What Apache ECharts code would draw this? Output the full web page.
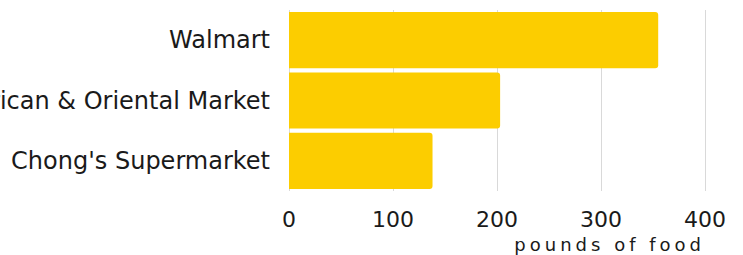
<!DOCTYPE html>
<html lang="en" style="height: 100%">

<head>
  <meta charset="utf-8">
</head>

<body style="height: 100%; margin: 0">
  <div id="container" style="height: 100%"></div>

  <script type="text/javascript" src="https://fastly.jsdelivr.net/npm/echarts@6.0.0/dist/echarts.min.js"></script>

  <script type="text/javascript">
    var stores = ['Walmart', 'African & Oriental Market', "Chong's Supermarket"];
    var pounds = [355, 203, 138];
    var xTicks = [0, 100, 200, 300, 400];
    var axisTitle = 'pounds of food';

    var dom = document.getElementById('container');
    // svg so the axis title can get letter spacing below
    var myChart = echarts.init(dom, null, {
      renderer: 'svg'
    });

    var font = 'DejaVu Sans';
    var option = {
      animation: false,
      grid: {
        left: 289,
        right: 38,
        top: 10,
        bottom: 64,
        outerBoundsMode: 'none'
      },
      xAxis: {
        type: 'value',
        min: xTicks[0],
        max: xTicks[xTicks.length - 1],
        interval: 100,
        name: axisTitle,
        nameLocation: 'end',
        nameGap: 0,
        nameTextStyle: {
          align: 'right',
          verticalAlign: 'top',
          padding: [44, 0, 0, 0],
          fontFamily: font,
          fontSize: 18,
          color: '#1a1a1a'
        },
        axisLine: { show: false },
        axisTick: { show: false },
        axisLabel: {
          margin: 17,
          fontFamily: font,
          fontSize: 22,
          color: '#1a1a1a'
        },
        splitLine: {
          lineStyle: { color: '#d9d9d9', width: 1 }
        }
      },
      yAxis: {
        type: 'category',
        data: stores,
        inverse: true,
        axisLine: { show: false },
        axisTick: { show: false },
        axisLabel: {
          margin: 19,
          fontFamily: font,
          fontSize: 24,
          color: '#1a1a1a'
        }
      },
      series: [{
        type: 'bar',
        data: pounds,
        barCategoryGap: '7%',
        itemStyle: {
          color: '#fccd00',
          borderRadius: [0, 3, 3, 0]
        }
      }]
    };

    myChart.setOption(option);

    // spaced out axis title
    dom.querySelectorAll('text').forEach(function (t) {
      if (t.textContent === axisTitle) {
        t.style.letterSpacing = '4px';
      }
    });

    window.addEventListener('resize', myChart.resize);
  </script>
</body>

</html>
